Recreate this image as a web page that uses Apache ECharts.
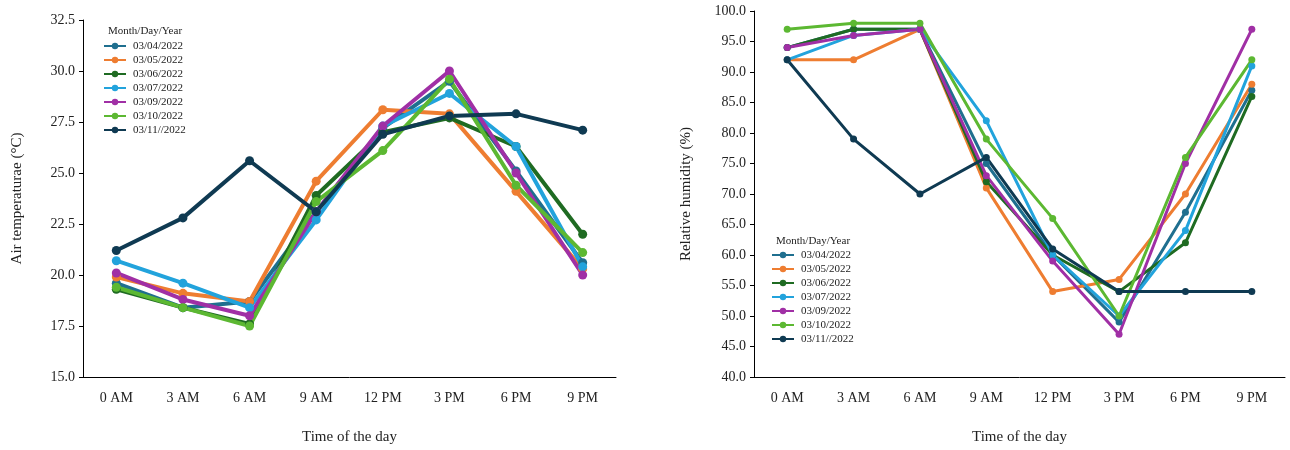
<!DOCTYPE html>
<html>
<head>
<meta charset="utf-8">
<title>Air temperature and relative humidity</title>
<script src="https://cdn.jsdelivr.net/npm/echarts@6/dist/echarts.min.js"></script>
<style>
  html, body { margin: 0; padding: 0; background: #fff; }
  #main { width: 1290px; height: 450px; }
</style>
</head>
<body>
<div id="main"></div>
<script type="text/javascript">
    // time of day categories
    var hours = ['0 AM', '3 AM', '6 AM', '9 AM', '12 PM', '3 PM', '6 PM', '9 PM'];
    var days = ['03/04/2022', '03/05/2022', '03/06/2022', '03/07/2022', '03/09/2022', '03/10/2022', '03/11//2022'];
    var colors = ['#1f6f8f', '#ee7d31', '#1f6b22', '#22a3dc', '#a02fa5', '#5cb832', '#0f3a52'];

    // air temperature (°C)
    var temp0304 = [19.6, 18.4, 18.7, 23.1, 27.2, 29.5, 25.1, 20.6];
    var temp0305 = [19.9, 19.1, 18.7, 24.6, 28.1, 27.9, 24.1, 20.3];
    var temp0306 = [19.3, 18.4, 17.6, 23.9, 27.0, 27.7, 26.3, 22.0];
    var temp0307 = [20.7, 19.6, 18.4, 22.7, 27.3, 28.9, 26.3, 20.4];
    var temp0309 = [20.1, 18.8, 18.0, 23.1, 27.3, 30.0, 25.0, 20.0];
    var temp0310 = [19.4, 18.4, 17.5, 23.6, 26.1, 29.6, 24.4, 21.1];
    var temp0311 = [21.2, 22.8, 25.6, 23.1, 26.9, 27.8, 27.9, 27.1];

    // relative humidity (%)
    var hum0304 = [94, 97, 97, 75, 60, 49, 67, 87];
    var hum0305 = [92, 92, 97, 71, 54, 56, 70, 88];
    var hum0306 = [94, 97, 97, 72, 60, 54, 62, 86];
    var hum0307 = [92, 96, 97, 82, 60, 50, 64, 91];
    var hum0309 = [94, 96, 97, 73, 59, 47, 75, 97];
    var hum0310 = [97, 98, 98, 79, 66, 50, 76, 92];
    var hum0311 = [92, 79, 70, 76, 61, 54, 54, 54];

    var tempData = [temp0304, temp0305, temp0306, temp0307, temp0309, temp0310, temp0311];
    var humData = [hum0304, hum0305, hum0306, hum0307, hum0309, hum0310, hum0311];

    var font = '"Liberation Serif", "DejaVu Serif", serif';
    var ink = '#222';

    function xAxis(grid) {
        return {
            type: 'category',
            gridIndex: grid,
            data: hours,
            boundaryGap: true,
            name: 'Time of the day',
            nameLocation: 'middle',
            nameGap: 53,
            nameTextStyle: { fontFamily: font, fontSize: 15, color: ink },
            axisLine: { lineStyle: { color: '#000', width: 1 } },
            axisTick: { alignWithLabel: false, length: 4, lineStyle: { color: '#000' } },
            axisLabel: { fontFamily: font, fontSize: 14, color: ink, margin: 14 },
            splitLine: { show: false }
        };
    }

    function yAxis(grid, min, max, step, title, gap) {
        return {
            type: 'value',
            gridIndex: grid,
            min: min,
            max: max,
            interval: step,
            name: title,
            nameLocation: 'middle',
            nameGap: gap,
            nameRotate: 90,
            nameTextStyle: { fontFamily: font, fontSize: 15, color: ink },
            axisLine: { show: true, lineStyle: { color: '#000', width: 1 } },
            axisTick: { show: true, length: 4, lineStyle: { color: '#000' } },
            axisLabel: {
                fontFamily: font, fontSize: 14, color: ink, margin: 8,
                formatter: function (v) { return v.toFixed(1); }
            },
            splitLine: { show: false }
        };
    }

    var series = [];
    days.forEach(function (d, i) {
        series.push({
            name: d, type: 'line', xAxisIndex: 0, yAxisIndex: 0,
            data: tempData[i], color: colors[i],
            symbol: 'circle', symbolSize: 9,
            lineStyle: { width: 4 }, itemStyle: { color: colors[i] },
            animation: false
        });
    });
    days.forEach(function (d, i) {
        series.push({
            name: d, type: 'line', xAxisIndex: 1, yAxisIndex: 1,
            data: humData[i], color: colors[i],
            symbol: 'circle', symbolSize: 7,
            lineStyle: { width: 3 }, itemStyle: { color: colors[i] },
            animation: false
        });
    });

    function legend(left, top) {
        return {
            data: days,
            orient: 'vertical',
            left: left,
            top: top,
            itemWidth: 22,
            itemHeight: 8,
            itemGap: 2,
            selectedMode: false,
            textStyle: { fontFamily: font, fontSize: 11, lineHeight: 12, color: ink, padding: [0, 0, 0, 2] }
        };
    }

    var myChart = echarts.init(document.getElementById('main'));
    myChart.setOption({
        backgroundColor: '#fff',
        title: [
            { text: 'Month/Day/Year', left: 103, top: 21, textStyle: { fontFamily: font, fontSize: 11, fontWeight: 'normal', color: ink } },
            { text: 'Month/Day/Year', left: 771, top: 231, textStyle: { fontFamily: font, fontSize: 11, fontWeight: 'normal', color: ink } }
        ],
        legend: [legend(98, 35), legend(766, 244)],
        grid: [
            { left: 83, right: 674, top: 20, bottom: 73 },
            { left: 754, right: 5, top: 11, bottom: 72 }
        ],
        xAxis: [xAxis(0), xAxis(1)],
        yAxis: [
            yAxis(0, 15, 32.5, 2.5, 'Air temperaturae (°C)', 58),
            yAxis(1, 40, 100, 5, 'Relative humidity (%)', 60)
        ],
        series: series
    });
</script>
</body>
</html>
